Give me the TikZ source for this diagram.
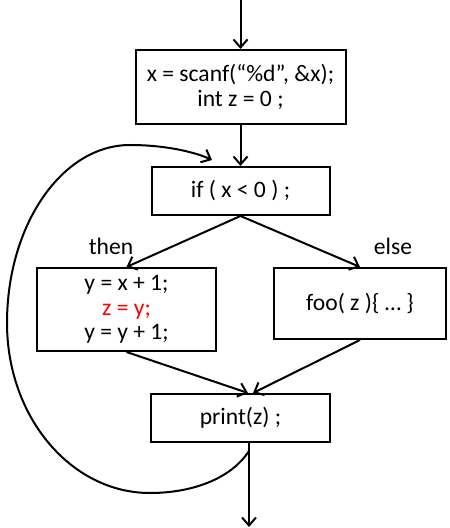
\documentclass[tikz,border=0pt]{standalone}
\usepackage{fontspec}
\setmainfont{Carlito}
\usetikzlibrary{arrows.meta}
\begin{document}
\begin{tikzpicture}[>={Straight Barb[length=4pt,width=7pt]}, x=0.5pt, y=-0.5pt, line width=1pt,
  font=\fontsize{11.8}{12.2}\selectfont,
  block/.style={draw, align=center, inner sep=0pt}]
  \useasboundingbox (0,0) rectangle (449,528);
  % Blocks of the flow graph
  \node[block, minimum width=105pt, minimum height=37pt] (init) at (240.5,87) {x = scanf(“\%d”, \&x);\\int z = 0 ;};
  \node[block, minimum width=89pt, minimum height=24pt] (cond) at (240.5,191) {if ( x < 0 ) ;};
  \node[block, minimum width=89.5pt, minimum height=41.5pt] (thenblk) at (126.5,309.5) {y = x + 1;\\\textcolor{red}{z = y;}\\y = y + 1;};
  \node[block, minimum width=86pt, minimum height=35.5pt] (elseblk) at (360,303.5) {foo( z )\{ … \}};
  \node[block, minimum width=89.5pt, minimum height=24pt] (out) at (240.5,418) {print(z) ;};
  % Branch labels
  \node (thenlbl) at (111,246) {then};
  \node (elselbl) at (393,246) {else};
  % Entry and exit
  \coordinate (entry) at (240.5,0);
  \coordinate (exit) at (249,527);
  \draw[->] (entry) -- (init.north);
  \draw[->] (init.south) -- (cond.north);
  \draw[->] (cond.south) -- (thenblk.north);
  \draw[->] (cond.south) -- (elseblk.north);
  \draw[->] (thenblk.south) -- ([xshift=3.75pt]out.north);
  \draw[->] (elseblk.south) -- ([xshift=6.25pt]out.north);
  \draw[->] ([xshift=4.25pt]out.south) -- (exit);
  % Back edge of the loop
  \draw[->] ([xshift=4.25pt,yshift=-4pt]out.south) .. controls (230,480) and (190,493) .. (150,493)
    .. controls (71,493) and (7,417) .. (7,323)
    .. controls (7,225) and (62,145) .. (130,145)
    .. controls (165,145) and (195,152) .. ([xshift=-14.25pt,yshift=3pt]cond.north);
\end{tikzpicture}
\end{document}
